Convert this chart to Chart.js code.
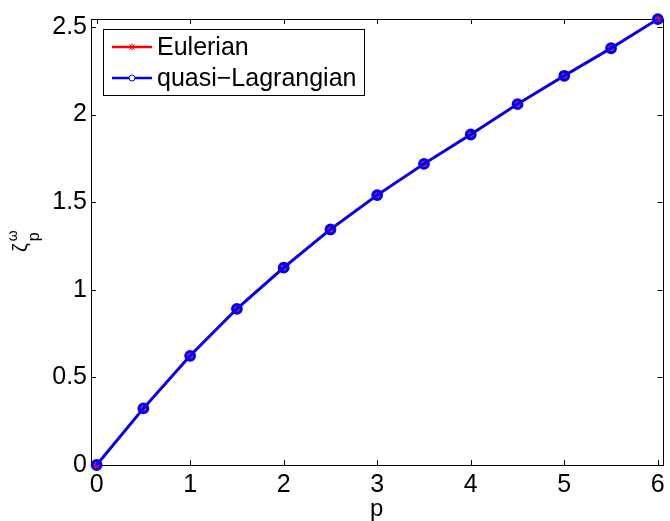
<!DOCTYPE html>
<html>
<head>
<meta charset="utf-8">
<script src="https://cdn.jsdelivr.net/npm/chart.js@4/dist/chart.umd.min.js"></script>
<style>
html,body{margin:0;padding:0;background:#fff}
#wrap{width:670px;height:521px;position:relative}
</style>
</head>
<body>
<div id="wrap"><canvas id="c"></canvas></div>
<script>

// values
const pValues=[0,0.5,1,1.5,2,2.5,3,3.5,4,4.5,5,5.5,6]
const eulerian=[0,0.322,0.624,0.892,1.127,1.345,1.541,1.719,1.887,2.060,2.222,2.379,2.545]
const quasiLag=[0,0.323,0.623,0.891,1.126,1.344,1.540,1.718,1.886,2.059,2.221,2.378,2.544]
const xTicks=[0,1,2,3,4,5,6]
const yTicks=[0,0.5,1,1.5,2,2.5]
const seriesNames=["Eulerian","quasi\u2212Lagrangian"]
const xTitle="p"

const FONT="Liberation Sans, Arial, sans-serif"

function pts(arr){
return pValues.map((p,i)=>({x:p,y:arr[i]}))
}

// frame, inward ticks, legend box, axis titles
const matlabLook={
id:"matlabLook",
beforeDatasetsDraw(chart){
const ctx=chart.ctx
const a=chart.chartArea
const xs=chart.scales.x, ys=chart.scales.y
ctx.save()
ctx.strokeStyle="#000"
ctx.lineWidth=1
ctx.strokeRect(Math.round(a.left)+0.5,Math.round(a.top)+0.5,Math.round(a.right-a.left),Math.round(a.bottom-a.top))
ctx.beginPath()
xTicks.forEach(t=>{
let x=Math.round(xs.getPixelForValue(t))+0.5
ctx.moveTo(x,a.bottom);ctx.lineTo(x,a.bottom-5)
ctx.moveTo(x,a.top);ctx.lineTo(x,a.top+5)
})
yTicks.forEach(t=>{
let y=Math.round(ys.getPixelForValue(t))+0.5
ctx.moveTo(a.left,y);ctx.lineTo(a.left+5,y)
ctx.moveTo(a.right,y);ctx.lineTo(a.right-5,y)
})
ctx.stroke()
ctx.restore()
},
afterDraw(chart){
const ctx=chart.ctx
const a=chart.chartArea
ctx.save()

// legend
let lx=Math.round(a.left)+12, ly=Math.round(a.top)+10, lw=261, lh=66
ctx.fillStyle="#fff"
ctx.fillRect(lx,ly,lw,lh)
ctx.strokeStyle="#000"
ctx.lineWidth=1
ctx.strokeRect(lx+0.5,ly+0.5,lw,lh)
chart.data.datasets.forEach((ds,i)=>{
let y=ly+18+i*31
ctx.strokeStyle=ds.borderColor
ctx.lineWidth=2.5
ctx.beginPath();ctx.moveTo(lx+9,y);ctx.lineTo(lx+49,y);ctx.stroke()
ctx.lineWidth=1
if(ds.pointStyle=="star"){
ctx.beginPath()
for(let k=0;k<4;k++){
let ang=k*Math.PI/4
ctx.moveTo(lx+29-3.5*Math.cos(ang),y-3.5*Math.sin(ang))
ctx.lineTo(lx+29+3.5*Math.cos(ang),y+3.5*Math.sin(ang))
}
ctx.stroke()
}else{
ctx.fillStyle="#fff"
ctx.beginPath();ctx.arc(lx+29,y,3,0,Math.PI*2);ctx.fill();ctx.stroke()
}
ctx.fillStyle="#000"
ctx.font="25px "+FONT
ctx.textBaseline="middle"
ctx.textAlign="left"
ctx.fillText(ds.label,lx+54,y+1)
})

// x title
ctx.fillStyle="#000"
ctx.font="24px "+FONT
ctx.textAlign="center"
ctx.textBaseline="alphabetic"
ctx.fillText(xTitle,(a.left+a.right)/2,516)

// y title: zeta with superscript omega and subscript p
ctx.translate(27,252)
ctx.rotate(-Math.PI/2)
ctx.textAlign="left"
ctx.font="20px "+FONT
ctx.fillText("\u03B6",0,0)
let w=ctx.measureText("\u03B6").width
ctx.font="14px "+FONT
ctx.fillText("\u03C9",w+2,-10)
ctx.font="16px "+FONT
ctx.fillText("p",w+2,12)
ctx.restore()
}
}

new Chart(document.getElementById("c"),{
type:"line",
data:{datasets:[
{label:seriesNames[0],data:pts(eulerian),borderColor:"#ff0000",backgroundColor:"#ff0000",borderWidth:2.5,order:2,clip:false,
pointStyle:"star",pointRadius:4,pointBorderWidth:1.5,pointBorderColor:"#ff0000",tension:0},
{label:seriesNames[1],data:pts(quasiLag),borderColor:"#0000ff",backgroundColor:"rgba(0,0,0,0)",borderWidth:2.8,order:1,clip:false,
pointStyle:"circle",pointRadius:4.3,pointBorderWidth:3.2,pointBorderColor:"#0000ff",tension:0}
]},
options:{
responsive:true,maintainAspectRatio:false,animation:false,
layout:{padding:{top:9,right:2,left:0,bottom:0}},
plugins:{legend:{display:false},tooltip:{enabled:false}},
scales:{
x:{type:"linear",min:-0.06,max:6.05,
afterBuildTicks:s=>{s.ticks=xTicks.map(v=>({value:v}))},
afterFit:s=>{s.height=56},
grid:{display:false,drawTicks:false},border:{display:false},
ticks:{color:"#000",font:{family:FONT,size:25},padding:5,maxRotation:0,callback:v=>String(v)}},
y:{type:"linear",min:0,max:2.545,
afterBuildTicks:s=>{s.ticks=yTicks.map(v=>({value:v}))},
afterFit:s=>{s.width=91},
grid:{display:false,drawTicks:false},border:{display:false},
ticks:{color:"#000",font:{family:FONT,size:25},padding:4,callback:v=>String(v)}}
}
},
plugins:[matlabLook]
})

</script>
</body>
</html>
